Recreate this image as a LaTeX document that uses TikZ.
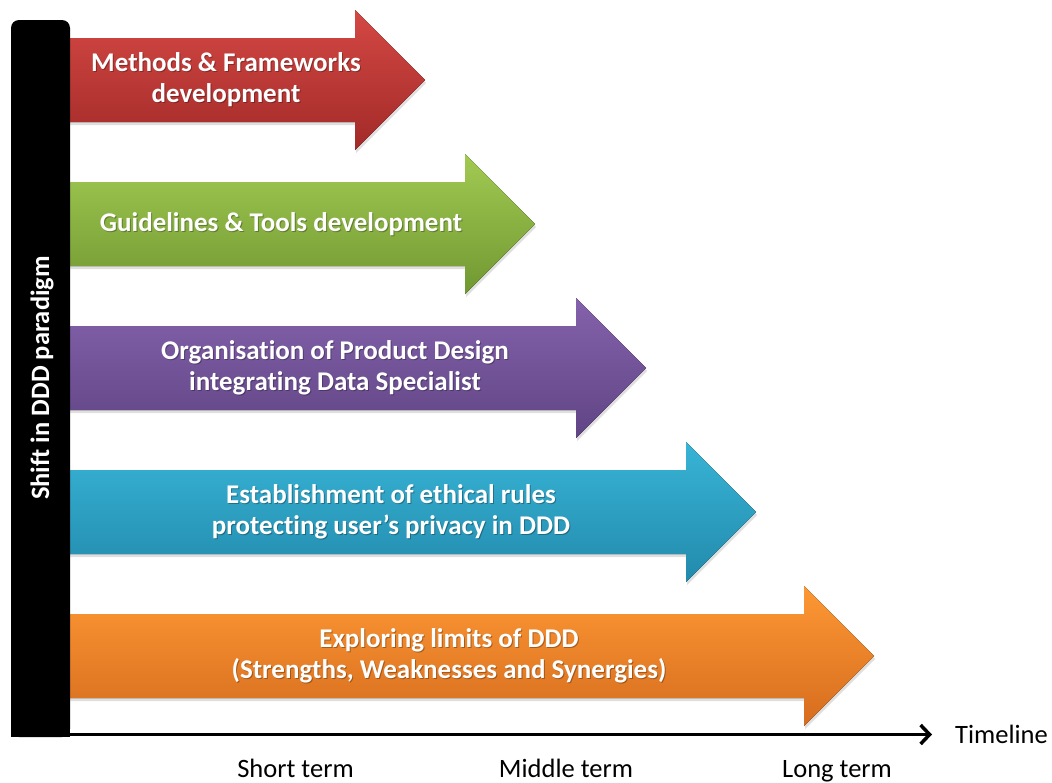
\documentclass[tikz,border=0pt]{standalone}
\usepackage{fontspec}
\setmainfont[Ligatures=NoCommon]{Carlito}
\usetikzlibrary{arrows.meta,shadows}
\definecolor{redT}{RGB}{212,72,68}
\definecolor{redB}{RGB}{162,42,40}
\definecolor{grnT}{RGB}{162,202,82}
\definecolor{grnB}{RGB}{112,152,50}
\definecolor{purT}{RGB}{132,98,172}
\definecolor{purB}{RGB}{96,68,132}
\definecolor{bluT}{RGB}{56,180,214}
\definecolor{bluB}{RGB}{34,138,172}
\definecolor{orgT}{RGB}{253,152,52}
\definecolor{orgB}{RGB}{214,108,30}
\tikzset{
  arrowtext/.style={text=white, font=\bfseries\fontsize{27}{31}\selectfont, align=center},
  arrowshadowtext/.style={text=black, opacity=0.3, font=\bfseries\fontsize{27}{31}\selectfont, align=center},
  termlabel/.style={font=\fontsize{26.5}{31}\selectfont, anchor=base},
  bigarrow/.style={drop shadow={opacity=0.25, shadow xshift=1pt, shadow yshift=-3pt}},
}
% #1 centre y, #2 head base x, #3 top colour, #4 bottom colour, #5 text x, #6 name, #7 text
\newcommand{\tlArrow}[7]{%
  \fill[bigarrow, top color=#3, bottom color=#4]
    (60,#1-42) -- (#2,#1-42) -- (#2,#1-70) -- (#2+70,#1) -- (#2,#1+70) -- (#2,#1+42) -- (60,#1+42) -- cycle;
  \node[arrowshadowtext] (#6s) at (#5+1,#1+1) {#7};
  \node[arrowtext] (#6) at (#5,#1) {#7};
}
\begin{document}
\begin{tikzpicture}[x=1pt,y=-1pt]
\useasboundingbox (0,0) rectangle (1052,782);
\fill[white] (0,0) rectangle (1052,782);

\tlArrow{80}{355}{redT}{redB}{226}{a1}{Methods \& Frameworks\\development}
\tlArrow{224}{465}{grnT}{grnB}{281}{a2}{Guidelines \& Tools development}
\tlArrow{368}{576}{purT}{purB}{335}{a3}{Organisation of Product Design\\integrating Data Specialist}
\tlArrow{512}{686}{bluT}{bluB}{391}{a4}{Establishment of ethical rules\\protecting user’s privacy in DDD}
\tlArrow{656}{804}{orgT}{orgB}{449}{a5}{Exploring limits of DDD\\(Strengths, Weaknesses and Synergies)}

% vertical bar
\fill[black, rounded corners=8pt] (11,20) rectangle (70,737);
\fill[black] (11,700) rectangle (70,737);
\node[text=white, font=\bfseries\fontsize{26.5}{30}\selectfont, rotate=90, anchor=base] (shift) at (49,378) {Shift in DDD paradigm};

% timeline axis
\coordinate (axstart) at (68,734.5);
\coordinate (axend) at (932,734.5);
\draw[line width=3.5pt, -{Straight Barb[length=9pt,width=19pt]}] (axstart) -- (axend);
\node[font=\fontsize{26.5}{31}\selectfont, anchor=base west, inner sep=0pt] (timeline) at (955,743) {Timeline};

\node[termlabel] (short) at (295.5,777) {Short term};
\node[termlabel] (middle) at (566,777) {Middle term};
\node[termlabel] (long) at (837,777) {Long term};
\end{tikzpicture}
\end{document}
